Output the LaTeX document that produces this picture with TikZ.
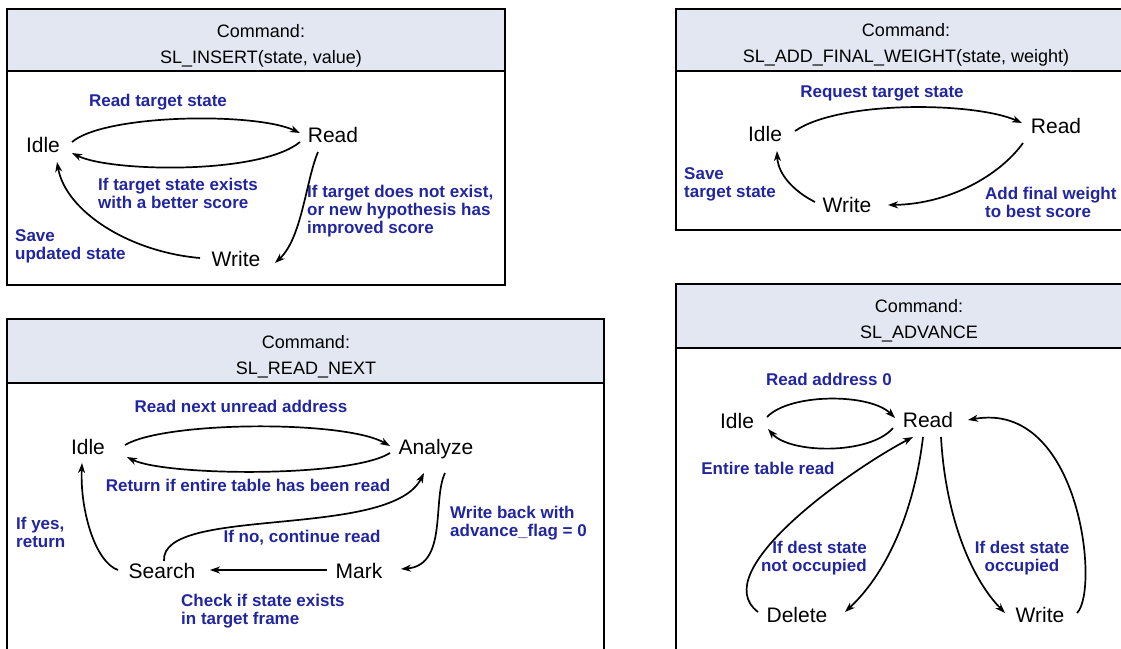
\documentclass[tikz,border=0pt]{standalone}
\usepackage{fontspec}
\setmainfont{Liberation Sans}
\usetikzlibrary{arrows.meta}

\definecolor{labelblue}{RGB}{34,38,158}
\definecolor{headfill}{RGB}{226,231,242}

\tikzset{
  panel/.style={draw=black, line width=1.8pt},
  headline/.style={draw=black, line width=2.4pt},
  headtext/.style={font=\fontsize{18}{26}\selectfont, align=center, inner sep=0pt},
  state/.style={font=\fontsize{21}{24}\selectfont, inner sep=0pt, text height=15pt, text depth=0pt},
  lbl/.style={font=\fontsize{17}{18}\selectfont\bfseries, text=labelblue, inner sep=0pt},
  trans/.style={line width=1.7pt, -{Stealth[length=10pt,width=7pt,inset=3pt]}},
}

\begin{document}
\begin{tikzpicture}[x=1pt, y=-1pt]
\useasboundingbox (0,0) rectangle (1121,648);
\clip (0,0) rectangle (1121,648);

% ---------- panel frames ----------
\fill[headfill] (7,9) rectangle (505,71);
\draw[panel] (7,9) rectangle (505,285);
\draw[headline] (7,71) -- (505,71);

\fill[headfill] (676,9) rectangle (1135,71);
\draw[panel] (676,9) rectangle (1135,230);
\draw[headline] (676,71) -- (1135,71);

\fill[headfill] (7,319) rectangle (604,383);
\draw[panel] (7,660) -- (7,319) -- (604,319) -- (604,660);
\draw[headline] (7,383) -- (604,383);

\fill[headfill] (676,284) rectangle (1135,348);
\draw[panel] (676,660) -- (676,284) -- (1135,284);
\draw[headline] (676,348) -- (1135,348);

% ---------- SL_INSERT ----------
\node[headtext] (h1) at (261,46) {Command:\\SL\_INSERT(state, value)};
\node[state] (i1) at (43,145) {Idle};
\node[state] (r1) at (333,135) {Read};
\node[state] (w1) at (236,259) {Write};
\node[lbl] (l1a) at (158,102) {Read target state};
\node[lbl, align=left, anchor=west] (l1b) at (98,193) {If target state exists\\with a better score};
\node[lbl, align=left, anchor=west] (l1c) at (307,211) {If target does not exist,\\or new hypothesis has\\improved score};
\node[lbl, align=left, anchor=west] (l1d) at (15,246) {Save\\updated state};

\draw[trans] ([shift={(29,-3)}]i1.center) .. controls (105,114) and (255,112) .. ([shift={(-33,-2)}]r1.center);
\draw[trans] ([shift={(-33,7)}]r1.center) .. controls (260,175) and (110,172) .. ([shift={(29,8)}]i1.center);
\draw[trans] ([shift={(-15,17)}]r1.center) .. controls (306,180) and (302,238) .. ([shift={(39,4)}]w1.center);
\draw[trans] ([shift={(-36,-1)}]w1.center) .. controls (130,252) and (66,212) .. ([shift={(14,17)}]i1.center);

% ---------- SL_ADD_FINAL_WEIGHT ----------
\node[headtext] (h2) at (906,45) {Command:\\SL\_ADD\_FINAL\_WEIGHT(state, weight)};
\node[state] (i2) at (765,134) {Idle};
\node[state] (r2) at (1056,126) {Read};
\node[state] (w2) at (847,205) {Write};
\node[lbl] (l2a) at (882,93) {Request target state};
\node[lbl, align=left, anchor=west] (l2b) at (684,184) {Save\\target state};
\node[lbl, align=left, anchor=west] (l2c) at (985,202) {Add final weight\\to best score};

\draw[trans] ([shift={(30,-3)}]i2.center) .. controls (840,100) and (975,102) .. ([shift={(-34,-3)}]r2.center);
\draw[trans] ([shift={(-33,17)}]r2.center) .. controls (1000,175) and (950,204) .. ([shift={(41,0)}]w2.center);
\draw[trans] ([shift={(-32,-3)}]w2.center) .. controls (795,192) and (778,175) .. ([shift={(12,17)}]i2.center);

% ---------- SL_READ_NEXT ----------
\node[headtext] (h3) at (306,357) {Command:\\SL\_READ\_NEXT};
\node[state] (i3) at (88,447) {Idle};
\node[state] (a3) at (436,447) {Analyze};
\node[state] (s3) at (162,571) {Search};
\node[state] (m3) at (359,571) {Mark};
\node[lbl] (l3a) at (241,406) {Read next unread address};
\node[lbl] (l3b) at (248,485) {Return if entire table has been read};
\node[lbl, align=left, anchor=west] (l3c) at (16,532) {If yes,\\return};
\node[lbl] (l3d) at (302,538) {If no, continue read};
\node[lbl, align=left, anchor=west] (l3e) at (450,523) {Write back with\\advance\_flag = 0};
\node[lbl, align=left, anchor=west] (l3f) at (181,611) {Check if state exists\\in target frame};

\draw[trans] ([shift={(37,-2)}]i3.center) .. controls (165,421) and (345,420) .. ([shift={(-46,-1)}]a3.center);
\draw[trans] ([shift={(-46,6)}]a3.center) .. controls (350,478) and (165,476) .. ([shift={(39,10)}]i3.center);
\draw[trans] ([shift={(-44,-1)}]s3.center) .. controls (95,562) and (80,510) .. ([shift={(-6,16)}]i3.center);
\draw[trans] ([shift={(2,-10)}]s3.center) .. controls (160,505) and (390,540) .. ([shift={(-12,26)}]a3.center);
\draw[trans] ([shift={(9,26)}]a3.center) .. controls (432,500) and (448,565) .. ([shift={(42,-2)}]m3.center);
\draw[trans] ([shift={(-32,-1)}]m3.center) -- ([shift={(48,-1)}]s3.center);

% ---------- SL_ADVANCE ----------
\node[headtext] (h4) at (919,321) {Command:\\SL\_ADVANCE};
\node[state] (i4) at (737,421) {Idle};
\node[state] (r4) at (928,420) {Read};
\node[state] (d4) at (797,615) {Delete};
\node[state] (w4) at (1040,615) {Write};
\node[lbl] (l4a) at (829,379) {Read address 0};
\node[lbl] (l4b) at (768,468) {Entire table read};
\node[lbl, align=right, anchor=east] (l4c) at (867,558) {If dest state\\not occupied};
\node[lbl, align=center] (l4d) at (1022,558) {If dest state\\occupied};

\draw[trans] ([shift={(30,-4)}]i4.center) .. controls (790,393) and (870,393) .. ([shift={(-33,-2)}]r4.center);
\draw[trans] ([shift={(-35,8)}]r4.center) .. controls (870,455) and (790,454) .. ([shift={(31,8)}]i4.center);
\draw[trans] ([shift={(-39,-3)}]d4.center) .. controls (705,572) and (850,470) .. ([shift={(-15,17)}]r4.center);
\draw[trans] ([shift={(-5,17)}]r4.center) .. controls (915,505) and (890,570) .. ([shift={(48,-3)}]d4.center);
\draw[trans] ([shift={(13,17)}]r4.center) .. controls (945,510) and (968,575) .. ([shift={(-35,-2)}]w4.center);
\draw[trans] ([shift={(37,-2)}]w4.center) .. controls (1100,590) and (1080,400) .. ([shift={(40,0)}]r4.center);
\end{tikzpicture}
\end{document}
